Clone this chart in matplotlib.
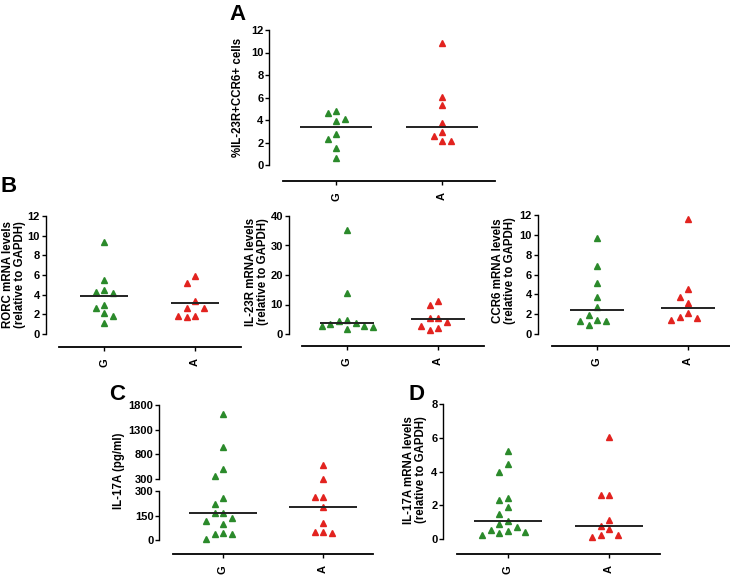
import matplotlib
matplotlib.use("Agg")
import matplotlib.pyplot as plt
import numpy as np

plt.rcParams["font.family"] = ["Liberation Sans", "DejaVu Sans"]
plt.rcParams["font.weight"] = "bold"

W, H = 730, 584
GREEN = "#2b8a2b"
RED = "#e2231f"
groups = ["G", "A"]

# A: %IL-23R+CCR6+ cells
a_g = [4.82, 4.61, 4.11, 3.93, 2.78, 2.31, 1.51, 0.65]
a_a = [10.88, 6.06, 5.29, 3.72, 2.96, 2.54, 2.10, 2.10]
a_mid = [3.4, 3.4]

# B: mRNA levels relative to GAPDH
rorc_g = [9.36, 5.54, 4.43, 4.29, 4.12, 2.97, 2.67, 2.10, 1.83, 1.15]
rorc_a = [5.92, 5.21, 3.38, 2.60, 2.60, 1.86, 1.86, 1.69]
rorc_mid = [3.89, 3.14]

il23r_g = [35.2, 13.8, 4.7, 4.5, 3.6, 3.3, 2.7, 2.7, 2.3, 1.7]
il23r_a = [11.2, 10.0, 5.5, 5.5, 4.2, 2.7, 1.9, 1.4]
il23r_mid = [3.6, 5.1]

ccr6_g = [9.65, 6.86, 5.18, 3.73, 2.76, 1.92, 1.41, 1.34, 1.31, 0.91]
ccr6_a = [11.56, 4.50, 3.76, 3.09, 2.08, 1.75, 1.61, 1.41]
ccr6_mid = [2.39, 2.62]

# C: IL-17A (pg/ml), broken axis at 300
il17_g = [1612, 953, 509, 354, 257, 220, 165, 165, 135, 116, 98, 43, 37, 37, 5]
il17_a = [576, 310, 265, 265, 200, 106, 51, 51, 41]
il17_mid = [165, 204]

# D: IL-17A mRNA
il17m_g = [5.20, 4.46, 3.99, 2.41, 2.31, 1.90, 1.50, 1.05, 0.89, 0.69, 0.55, 0.49, 0.41, 0.34, 0.22]
il17m_a = [6.03, 2.59, 2.59, 1.11, 0.79, 0.59, 0.22, 0.22, 0.10]
il17m_mid = [1.09, 0.79]

fig = plt.figure(figsize=(W / 100, H / 100), dpi=100)


def add_axes(x_g, x_a, top_px, bot_px, v_top, p_top, v0, p0):
    spacing = x_a - x_g
    left = x_g - spacing / 2
    right = x_a + spacing / 2
    ppu = (p0 - p_top) / (v_top - v0)
    ax = fig.add_axes([left / W, 1 - bot_px / H, (right - left) / W, (bot_px - top_px) / H])
    ax.set_xlim(-0.5, 1.5)
    ax.set_ylim(v0 - (bot_px - p0) / ppu, v_top + (p_top - top_px) / ppu)
    ax.patch.set_alpha(0)
    for s in ["top", "right"]:
        ax.spines[s].set_visible(False)
    return ax, spacing


def style(ax, spine_px, v0, v_top, ticks, xaxis=True):
    ax.spines["left"].set_position(("outward", spine_px * 0.72))
    ax.spines["left"].set_bounds(v0, v_top)
    ax.spines["left"].set_linewidth(1.0)
    ax.set_yticks(ticks)
    ax.tick_params(axis="y", length=3, width=1.0, labelsize=8, pad=1)
    if xaxis:
        ax.spines["bottom"].set_linewidth(1.3)
        ax.set_xticks([0, 1])
        ax.set_xticklabels(groups, rotation=90)
        ax.tick_params(axis="x", length=3, width=1.0, labelsize=8, pad=5)
    else:
        ax.spines["bottom"].set_visible(False)
        ax.set_xticks([])


def swarm(py, thr=8.5):
    offs = []
    cands = [0, -1, 1, -2, 2, -3, 3, -4, 4]
    for i, p in enumerate(py):
        for k in cands:
            if all(abs(p - py[j]) >= thr for j in range(i) if offs[j] == k):
                offs.append(k)
                break
    return np.array(offs)


def draw_points(ax, idx, vals, ppu, spacing, color, step=8.5):
    py = np.asarray(vals) * ppu
    x = idx + swarm(py) * step / spacing
    ax.plot(x, vals, ls="none", marker="^", ms=5, color=color, mec=color, clip_on=False, zorder=3)


def panel(x_g, x_a, top_px, bot_px, v_top, p_top, p0, spine_px, ticks, g, a, mid, hw):
    ax, spacing = add_axes(x_g, x_a, top_px, bot_px, v_top, p_top, 0, p0)
    ppu = (p0 - p_top) / v_top
    style(ax, spine_px, 0, v_top, ticks)
    draw_points(ax, 0, g, ppu, spacing, GREEN)
    draw_points(ax, 1, a, ppu, spacing, RED)
    for i, m in enumerate(mid):
        ax.hlines(m, i - hw, i + hw, color="#222222", lw=1.4, zorder=4)
    return ax


def label(x, y, s, size=8.3):
    fig.text(x / W, 1 - y / H, s, rotation=90, ha="center", va="center",
             fontsize=size, fontweight="bold", multialignment="center", linespacing=1.1)


# panel A
panel(336, 442, 26, 181, 12, 30, 165, 14, np.arange(0, 13, 2), a_g, a_a, a_mid, 0.34)
label(238, 97, "%IL-23R+CCR6+ cells")

# panel B
panel(104, 195, 212, 347, 12, 216, 334, 13, np.arange(0, 13, 2), rorc_g, rorc_a, rorc_mid, 0.26)
label(14, 275, "RORC mRNA levels\n(relative to GAPDH)")
panel(347, 438, 212, 346, 40, 216, 334, 13, np.arange(0, 41, 10), il23r_g, il23r_a, il23r_mid, 0.3)
label(257, 272, "IL-23R mRNA levels\n(relative to GAPDH)")
panel(597, 688, 211, 346, 12, 215, 334, 14, np.arange(0, 13, 2), ccr6_g, ccr6_a, ccr6_mid, 0.3)
label(504, 271, "CCR6 mRNA levels\n(relative to GAPDH)")

# panel C (broken axis)
ax_lo, sp_c = add_axes(223, 323, 487, 554, 300, 491, 0, 540)
ax_hi, _ = add_axes(223, 323, 401, 481, 1800, 405, 300, 479)
style(ax_lo, 14, 0, 300, [0, 150, 300])
style(ax_hi, 14, 300, 1800, [300, 800, 1300, 1800], xaxis=False)
ppu_lo = (540 - 491) / 300
ppu_hi = (479 - 405) / 1500


def to_px(v):
    v = np.asarray(v, dtype=float)
    return np.where(v < 300, v * ppu_lo, 300 * ppu_lo + 12 + (v - 300) * ppu_hi)


for i, (vals, color) in enumerate([(il17_g, GREEN), (il17_a, RED)]):
    vals = np.asarray(vals, dtype=float)
    x = i + swarm(to_px(vals)) * 8.5 / sp_c
    hi = vals >= 300
    ax_hi.plot(x[hi], vals[hi], ls="none", marker="^", ms=5, color=color, clip_on=False, zorder=3)
    ax_lo.plot(x[~hi], vals[~hi], ls="none", marker="^", ms=5, color=color, clip_on=False, zorder=3)
    ax_lo.hlines(il17_mid[i], i - 0.34, i + 0.34, color="#222222", lw=1.4, zorder=4)
label(119, 471, "IL-17A (pg/ml)")

# panel D
panel(508, 609, 400, 554, 8, 404, 539, 14.5, np.arange(0, 9, 2), il17m_g, il17m_a, il17m_mid, 0.34)
label(415, 470, "IL-17A mRNA levels\n(relative to GAPDH)")

# panel letters
for s, x, y in [("A", 237, 15), ("B", 9, 187), ("C", 117, 395), ("D", 416, 395)]:
    fig.text(x / W, 1 - y / H, s, fontsize=16, fontweight="bold", ha="center", va="center")

fig.savefig("out.png", dpi=100)
